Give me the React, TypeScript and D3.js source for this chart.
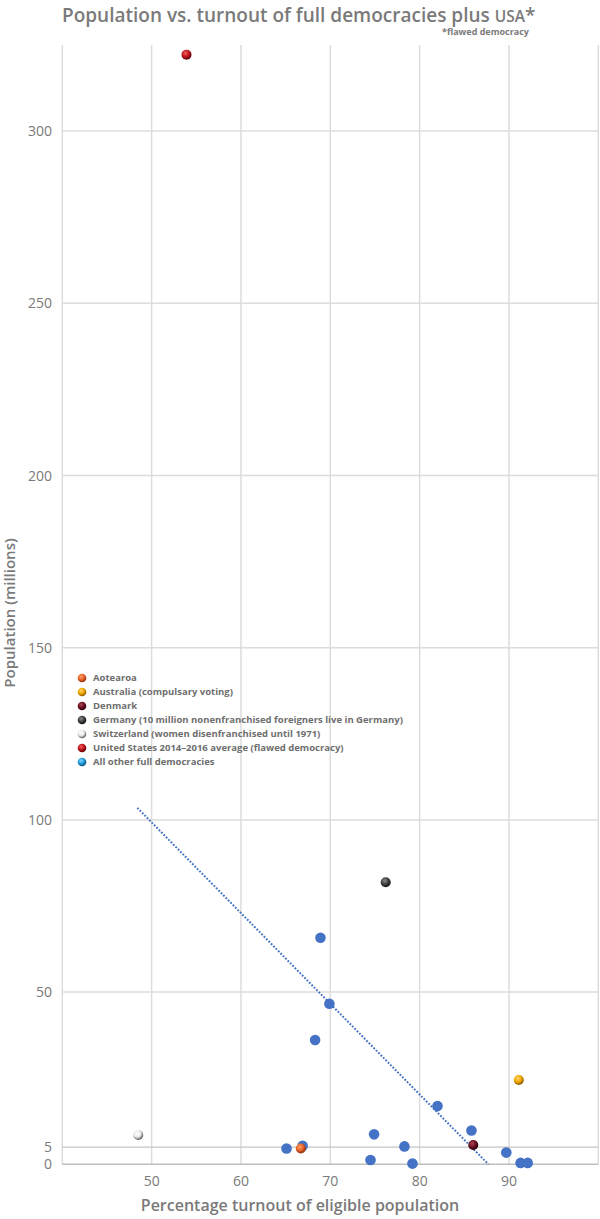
import React from "react";
import * as d3 from "d3";

const W = 600;
const H = 1219;

const xTicks = [50, 60, 70, 80, 90];
const yTicks = [0, 5, 50, 100, 150, 200, 250, 300];
const xGrid = [40, 50, 60, 70, 80, 90, 100];
const yGrid = [50, 100, 150, 200, 250, 300];

// Other full democracies: turnout %, population (millions)
const otherTurnout = [68.9, 69.9, 68.3, 82.0, 85.8, 89.7, 91.3, 92.1, 79.2, 74.5, 74.9, 78.3, 65.1, 66.9];
const otherPop = [65.8, 46.6, 36.1, 16.9, 9.8, 3.4, 0.4, 0.4, 0.2, 1.25, 8.7, 5.2, 4.6, 5.4];

// Highlighted countries
const specialNames = ["Aotearoa", "Australia", "Denmark", "Germany", "Switzerland", "USA"];
const specialTurnout = [66.7, 91.1, 86.0, 76.2, 48.5, 53.9];
const specialPop = [4.6, 24.5, 5.6, 81.9, 8.5, 322.2];

// Trendline endpoints
const trendX = [48.4, 87.7];
const trendY = [103.5, 0];

const legendLabels = [
  "Aotearoa",
  "Australia (compulsary voting)",
  "Denmark",
  "Germany (10 million nonenfranchised foreigners live in Germany)",
  "Switzerland (women disenfranchised until 1971)",
  "United States 2014\u20132016 average (flawed democracy)",
  "All other full democracies",
];

const gradients = [
  { id: "g-aot", light: "#ffa06a", mid: "#e8642a", dark: "#8a2a08" },
  { id: "g-aus", light: "#ffd86a", mid: "#f0a500", dark: "#8a5a00" },
  { id: "g-den", light: "#a84a5a", mid: "#6b1020", dark: "#2a0008" },
  { id: "g-ger", light: "#8a8a8a", mid: "#404040", dark: "#101010" },
  { id: "g-swi", light: "#ffffff", mid: "#e8e8e8", dark: "#555555" },
  { id: "g-usa", light: "#f06060", mid: "#c0141c", dark: "#5a0008" },
  { id: "g-oth", light: "#7fd4ff", mid: "#1e9bd7", dark: "#0a4a80" },
];

const FONT = "'Open Sans', 'Noto Sans', sans-serif";
const GREY = "#7a7a7a";

export default function App() {
  const x = d3.scaleLinear().domain([40, 100]).range([62.3, 598.3]);
  const y = d3.scaleLinear().domain([0, 325]).range([1164.3, 45]);

  const line = d3
    .line<number>()
    .x((_, i) => x(trendX[i]))
    .y((_, i) => y(trendY[i]));

  return (
    <svg
      width={W}
      height={H}
      style={{ position: "absolute", left: 0, top: 0, background: "#fff" }}
      fontFamily={FONT}
    >
      <defs>
        {gradients.map((g) => (
          <radialGradient key={g.id} id={g.id} cx="0.4" cy="0.35" r="0.65">
            <stop offset="0%" stopColor={g.light} />
            <stop offset="55%" stopColor={g.mid} />
            <stop offset="100%" stopColor={g.dark} />
          </radialGradient>
        ))}
      </defs>

      {/* Title */}
      <text x={62} y={22} fontSize={19} fill={GREY} fontWeight={600}>
        Population vs. turnout of full democracies plus{" "}
        <tspan fontSize={15.5}>USA</tspan>
        <tspan fontSize={19}>*</tspan>
      </text>
      <text x={529} y={35} fontSize={9} fill={GREY} fontWeight={700} textAnchor="end">
        *flawed democracy
      </text>

      {/* Grid */}
      {xGrid.map((v) => (
        <line key={"xg" + v} x1={x(v)} x2={x(v)} y1={y(325)} y2={y(0)} stroke="#dcdcdc" strokeWidth={1.5} />
      ))}
      {yGrid.map((v) => (
        <line key={"yg" + v} x1={x(40)} x2={x(100)} y1={y(v)} y2={y(v)} stroke="#dcdcdc" strokeWidth={1.5} />
      ))}
      <line x1={x(40)} x2={x(100)} y1={y(5)} y2={y(5)} stroke="#c4c4c4" strokeWidth={1.2} />
      <line x1={x(40)} x2={x(100)} y1={y(0)} y2={y(0)} stroke="#bdbdbd" strokeWidth={1.5} />

      {/* Y tick labels */}
      {yTicks.map((v) => (
        <text key={"yt" + v} x={52} y={y(v) + 5} fontSize={14} fill={GREY} textAnchor="end">
          {v}
        </text>
      ))}
      {/* X tick labels */}
      {xTicks.map((v) => (
        <text key={"xt" + v} x={x(v)} y={1186} fontSize={14} fill={GREY} textAnchor="middle">
          {v}
        </text>
      ))}

      {/* Axis titles */}
      <text x={300} y={1211} fontSize={16} fill={GREY} fontWeight={600} textAnchor="middle">
        Percentage turnout of eligible population
      </text>
      <text
        transform={`translate(15, 613) rotate(-90)`}
        fontSize={15}
        fill={GREY}
        fontWeight={600}
        textAnchor="middle"
      >
        Population (millions)
      </text>

      {/* Trendline */}
      <path
        d={line(trendX) || ""}
        fill="none"
        stroke="#4472c4"
        strokeWidth={2}
        strokeDasharray="1.8 1.6"
      />

      {/* Other democracies */}
      {otherTurnout.map((t, i) => (
        <circle key={"o" + i} cx={x(t)} cy={y(otherPop[i])} r={5.3} fill="#4472c4" />
      ))}

      {/* Highlighted countries */}
      {specialTurnout.map((t, i) => (
        <circle key={"s" + i} cx={x(t)} cy={y(specialPop[i])} r={5} fill={`url(#${gradients[i].id})`} />
      ))}

      {/* Legend */}
      {legendLabels.map((lab, i) => (
        <g key={"lg" + i} transform={`translate(82, ${678 + i * 14})`}>
          <circle cx={0} cy={0} r={4.3} fill={`url(#${gradients[i].id})`} />
          <text x={11} y={3.3} fontSize={9.5} fill="#6e6e6e" fontWeight={700}>
            {lab}
          </text>
        </g>
      ))}
    </svg>
  );
}
